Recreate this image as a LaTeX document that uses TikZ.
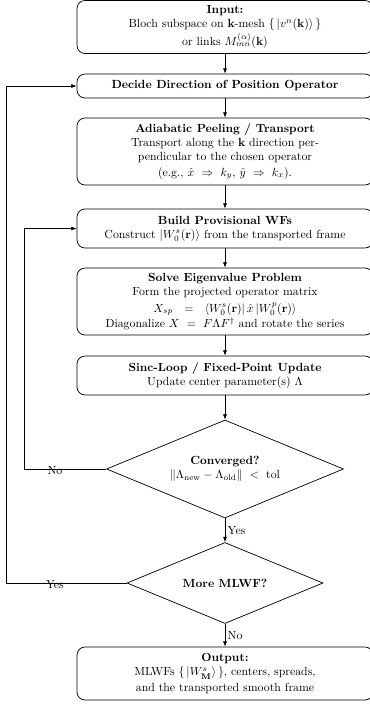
\documentclass[tikz,border=0pt]{standalone}
\usetikzlibrary{shapes.geometric,arrows.meta}
\begin{document}
\begin{tikzpicture}[x=0.8475pt,y=-0.8475pt,
  box/.style={draw, rounded corners=6.8pt, align=center, minimum width={296*0.8475pt}, inner sep=2pt, line width=0.6pt},
  dec/.style={draw, diamond, align=center, inner sep=0pt, line width=0.6pt},
  arr/.style={-{Latex[length=4.5pt,width=3.4pt]}, line width=0.6pt},
  lab/.style={inner sep=1pt}]
\useasboundingbox (0,0) rectangle (370,707);

\node[box, minimum height={53*0.8475pt}] (input) at (225,27)
  {\textbf{Input:}\\ Bloch subspace on $\mathbf{k}$-mesh $\{\,|v^n(\mathbf{k})\rangle\,\}$\\[1pt] or links $M^{(\alpha)}_{mn}(\mathbf{k})$};
\node[box, minimum height={24*0.8475pt}] (decide) at (225,86)
  {\textbf{Decide Direction of Position Operator}};
\node[box, minimum height={67*0.8475pt}] (peel) at (225,151.5)
  {\textbf{Adiabatic Peeling / Transport}\\ Transport along the $\mathbf{k}$ direction per-\\ pendicular to the chosen operator\\[1pt] (e.g., $\hat{x}\ \Rightarrow\ k_y$, $\hat{y}\ \Rightarrow\ k_x$).};
\node[box, minimum height={39*0.8475pt}] (build) at (225,228.5)
  {\textbf{Build Provisional WFs}\\ Construct $|W_0^s(\mathbf{r})\rangle$ from the transported frame};
\node[box, minimum height={67*0.8475pt}] (solve) at (225,301.5)
  {\textbf{Solve Eigenvalue Problem}\\ Form the projected operator matrix\\[2pt] $X_{sp}\ \ =\ \ \langle W_0^s(\mathbf{r})|\,\hat{x}\,|W_0^p(\mathbf{r})\rangle$\\[1pt] Diagonalize $X\ =\ F\Lambda F^\dagger$ and rotate the series};
\node[box, minimum height={39*0.8475pt}] (sinc) at (225,375.5)
  {\textbf{Sinc-Loop / Fixed-Point Update}\\ Update center parameter(s) $\Lambda$};
\node[dec, aspect=2.4, minimum width={237*0.8475pt}, minimum height={98*0.8475pt}] (conv) at (225,469)
  {\textbf{Converged?}\\ $\|\Lambda_{\mathrm{new}} - \Lambda_{\mathrm{old}}\|\ <\ \mathrm{tol}$};
\node[dec, aspect=2.4, minimum width={196*0.8475pt}, minimum height={81*0.8475pt}] (more) at (225,583)
  {\textbf{More MLWF?}};
\node[box, minimum height={53*0.8475pt}] (output) at (225,673.5)
  {\textbf{Output:}\\ MLWFs $\{\,|W^s_{\mathbf{M}}\rangle\,\}$, centers, spreads,\\[1pt] and the transported smooth frame};

\draw[arr] (input) -- (decide);
\draw[arr] (decide) -- (peel);
\draw[arr] (peel) -- (build);
\draw[arr] (build) -- (solve);
\draw[arr] (solve) -- (sinc);
\draw[arr] (sinc) -- (conv);
\draw[arr] (conv) -- node[lab, right, xshift=1pt] {Yes} (more);
\draw[arr] (more) -- node[lab, right, xshift=1pt] {No} (output);
\draw[arr] (conv.west) -- ++(-82,0) coordinate (c1) |- (build.west);
\draw[arr] (more.west) -- ++(-120,0) coordinate (c2) |- (decide.west);
\node[lab] (nolab) at (55,471) {No};
\node[lab] (yeslab) at (55,585) {Yes};
\end{tikzpicture}
\end{document}
